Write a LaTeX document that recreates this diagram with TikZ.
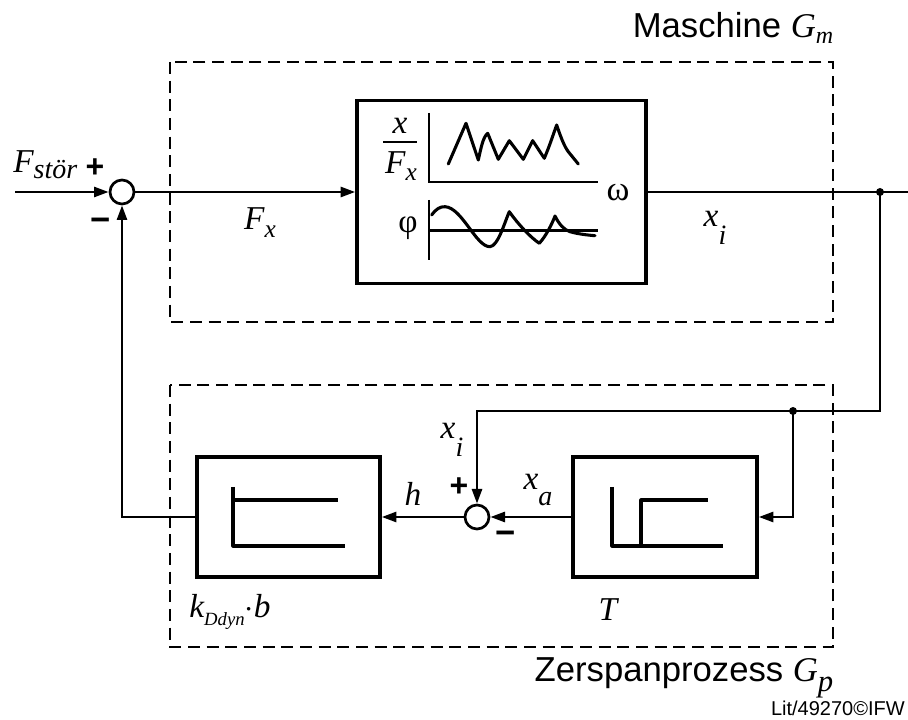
\documentclass[tikz,border=0pt]{standalone}
\usepackage{fontspec}
\setmainfont{Liberation Sans}
\newfontfamily\tms{Liberation Serif}
\usetikzlibrary{arrows.meta}
\newcommand\fs[1]{\fontsize{#1}{#1}\selectfont}
\newcommand\vr[1]{{\tms\itshape #1}}
\newcommand\sbx[3]{\raisebox{-#1}{\fs{#2}\tms\itshape #3}}
\begin{document}
\begin{tikzpicture}[x=0.75pt,y=-0.75pt,
  conn/.style={line width=2pt,-{Triangle[length=11pt,width=7.5pt]}},
  wire/.style={line width=2pt},
  block/.style={draw,line width=2.6pt,rectangle,inner sep=0pt},
  sumc/.style={draw,circle,line width=2pt,minimum size=18pt,inner sep=0pt,fill=white},
  dotn/.style={circle,fill,inner sep=0pt,minimum size=6pt},
  dashbox/.style={line width=1.2pt,dash pattern=on 9pt off 5pt},
  plotln/.style={line width=2.3pt,line join=round,line cap=round},
  axis/.style={line width=1.8pt},
  lbl/.style={inner sep=0pt}]
\useasboundingbox (0,0) rectangle (908,720);

% dashed boxes
\draw[dashbox] (170,62) rectangle (833,322);
\draw[dashbox] (170,385) rectangle (833,647);

% blocks
\node[block,minimum width=216.75pt,minimum height=137.25pt] (M) at (501.5,192) {};
\node[block,minimum width=137.25pt,minimum height=90pt] (K) at (288.5,517) {};
\node[block,minimum width=138pt,minimum height=90pt] (T) at (665,517) {};
\node[sumc] (s1) at (122,192) {};
\node[sumc] (s2) at (477,517) {};
\node[dotn] (d1) at (880,192) {};
\node[dotn] (d2) at (793,411) {};
\coordinate (in) at (15,192);
\coordinate (out) at (908,192);

% connectors
\draw[conn] (in) -- (s1.west);
\draw[conn] (s1.east) -- (M.west);
\draw[wire] (M.east) -- (out);
\draw[conn] (d1.center) |- (d2.center) -| (s2.north);
\draw[conn] (d2.center) |- (T.east);
\draw[conn] (T.west) -- (s2.east);
\draw[conn] (s2.west) -- (K.east);
\draw[conn] (K.west) -| (s1.south);

% inner of main block: magnitude plot
\draw[axis] (429,113) -- (429,182) -- (598,182);
\draw[plotln] (448.3,164) -- (466,123.3) -- (478.3,160) .. controls (481,148) and (483,137) .. (487.7,133.3)
  -- (498.3,159.3) -- (509.3,140.7) -- (523.3,159.3) -- (532.7,140.7) -- (544.3,158.3)
  .. controls (550,145) and (554,132) .. (556.7,125) .. controls (560,135) and (564,146) .. (568.3,151.7) -- (578.3,164);
% phase plot
\draw[axis] (429,200) -- (429,260);
\draw[axis] (429,230.7) -- (598,230.7);
\draw[plotln] (431.7,215) .. controls (436,209) and (440,206.5) .. (445,206.7)
  .. controls (462,207.5) and (476,247) .. (490,246.7)
  .. controls (498,246) and (504,224) .. (509.3,211.7)
  .. controls (518,224) and (530,237) .. (539.3,243.3)
  .. controls (546,236) and (552,224) .. (555,216)
  .. controls (559,224) and (564,230) .. (570,231.7)
  .. controls (578,234) and (587,235) .. (595,235.7);
% fraction
\node[lbl] (fx) at (400,126) {\fs{25}\vr{x}};
\draw[line width=1.5pt] (383,142) -- (417,142);
\node[lbl] (fF) at (401,166) {\fs{25}\vr{F}\sbx{5pt}{19}{x}};
\node[lbl] (phi) at (408,228) {\fs{25}\tms φ};
\node[lbl] (om) at (618,193) {\fs{26}\tms ω};

% inner of K block
\draw[plotln,line cap=butt] (233,487) -- (233,546) -- (345,546);
\draw[plotln,line cap=butt] (233,500) -- (338,500);
% inner of T block
\draw[plotln,line cap=butt] (612,487) -- (612,546) -- (723,546);
\draw[plotln,line cap=butt] (641,546) -- (641,500) -- (708,500);

% labels
\node[lbl,anchor=base west] (Fst) at (13,173) {\fs{25}\vr{F}\sbx{4pt}{21}{stör}};
\node[lbl] (p1) at (95,168) {\fs{24}\bfseries +};
\node[lbl] (m1) at (101,225) {\fs{26}\bfseries −};
\node[lbl] (Fx) at (260,223) {\fs{25}\vr{F}\sbx{6pt}{19}{x}};
\node[lbl] (xi1) at (715,228) {\fs{25}\vr{x}\sbx{14pt}{21}{i}};
\node[lbl] (xi2) at (452,440) {\fs{25}\vr{x}\sbx{14pt}{21}{i}};
\node[lbl] (p2) at (459,487) {\fs{24}\bfseries +};
\node[lbl] (h) at (413,494) {\fs{25}\vr{h}};
\node[lbl] (xa) at (538,490) {\fs{25}\vr{x}\sbx{12pt}{21}{a}};
\node[lbl] (m2) at (506,538) {\fs{26}\bfseries −};
\node[lbl] (kd) at (230,612) {\fs{25}\vr{k}\sbx{6pt}{14}{Ddyn}{\tms\fs{25}$\cdot$}\vr{b}};
\node[lbl] (Tl) at (608,610) {\fs{25}\vr{T}};
\node[lbl] (mas) at (733,28) {\fs{26}Maschine \vr{G}\sbx{5pt}{18}{m}};
\node[lbl] (zer) at (684,678) {\fs{26}Zerspanprozess \vr{G}\sbx{7pt}{23}{p}};
\node[lbl,anchor=east] (lit) at (905,708) {\fs{15}Lit/49270©IFW};
\end{tikzpicture}
\end{document}
